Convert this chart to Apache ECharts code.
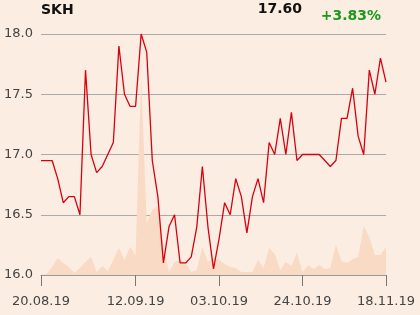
<!DOCTYPE html>
<html><head><meta charset="utf-8">
<script src="https://cdn.jsdelivr.net/npm/echarts@6/dist/echarts.min.js"></script>
<style>html,body{margin:0;padding:0;background:#fbede1;}#c{width:420px;height:315px;}</style>
</head><body><div id="c"></div>
<script>
var title = "SKH";
var lastPrice = "17.60";
var change = "+3.83%";
var tickLabels = ["20.08.19","12.09.19","03.10.19","24.10.19","18.11.19"];
var tickIndex = [0,17,32,47,62];
var prices = [16.95,16.95,16.95,16.8,16.6,16.65,16.65,16.5,17.7,17.0,
  16.85,16.9,17.0,17.1,17.9,17.5,17.4,17.4,18.0,17.85,
  16.95,16.65,16.1,16.4,16.5,16.1,16.1,16.15,16.4,16.9,
  16.4,16.05,16.3,16.6,16.5,16.8,16.65,16.35,16.65,16.8,
  16.6,17.1,17.0,17.3,17.0,17.35,16.95,17.0,17.0,17.0,
  17.0,16.95,16.9,16.95,17.3,17.3,17.55,17.15,17.0,17.7,
  17.5,17.8,17.6];
var volumes = [0,1,8,17,12,8,2,7,13,18,
  3,9,4,15,27,15,28,20,197,52,
  65,69,30,3,13,15,12,3,5,28,
  13,17,15,11,8,7,3,3,3,15,
  7,27,21,5,13,9,22,3,10,6,
  10,6,7,30,14,12,16,18,49,38,
  20,20,28];
var categories = [];
for (var i = 0; i < prices.length; i++) {
  var k = tickIndex.indexOf(i);
  categories.push(k >= 0 ? tickLabels[k] : String(i));
}
var font = "DejaVu Sans";
var chart = echarts.init(document.getElementById('c'));
chart.setOption({
  backgroundColor: '#fbede1',
  animation: false,
  textStyle: {fontFamily: font},
  graphic: [
    {type:'text', left: 41, top: 3, style:{text: title, font:'bold 14px "DejaVu Sans"', fill:'#111'}},
    {type:'text', right: 118, top: 2, style:{text: lastPrice, font:'bold 14px "DejaVu Sans"', fill:'#111'}},
    {type:'text', right: 39, top: 9, style:{text: change, font:'bold 14px "DejaVu Sans"', fill:'#1a9a1a'}}
  ],
  grid: {left: 41, right: 34, top: 34, bottom: 40},
  xAxis: {
    type: 'category', data: categories, boundaryGap: false,
    axisLine: {lineStyle: {color: '#999'}},
    axisTick: {show: true, length: 11, lineStyle: {color: '#777'},
      interval: function (idx) { return tickIndex.indexOf(idx) >= 0; }},
    axisLabel: {margin: 20, color: '#444', fontSize: 13, fontFamily: font,
      interval: function (idx) { return tickIndex.indexOf(idx) >= 0; }},
    splitLine: {show: false}
  },
  yAxis: [{
    type: 'value', min: 16, max: 18, interval: 0.5,
    axisLine: {show: false}, axisTick: {show: false},
    axisLabel: {margin: 8, color: '#444', fontSize: 13, fontFamily: font,
      formatter: function (v) { return v.toFixed(1); }},
    splitLine: {lineStyle: {color: '#aaa', width: 1}}
  }, {
    type: 'value', min: 0, max: 241, show: false, splitLine: {show: false}
  }],
  series: [{
    type: 'line', yAxisIndex: 1, data: volumes, symbol: 'none',
    lineStyle: {width: 0}, areaStyle: {color: '#f8dac5', opacity: 1}, z: 1
  }, {
    type: 'line', yAxisIndex: 0, data: prices, symbol: 'none',
    lineStyle: {color: '#d7000f', width: 1.3}, z: 3
  }]
});
</script></body></html>
